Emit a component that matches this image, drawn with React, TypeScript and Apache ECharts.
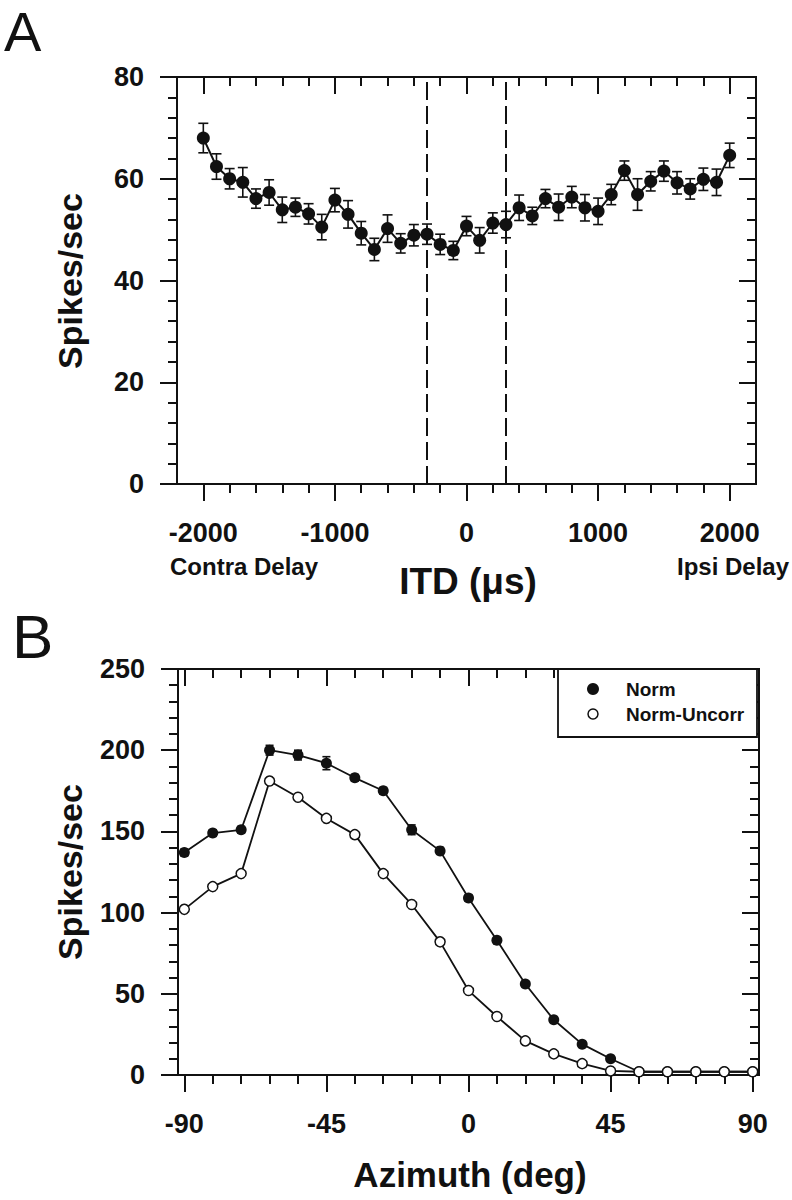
import React, { useEffect, useRef } from "react";
import * as echarts from "echarts";

// ---------- Panel A data: ITD tuning ----------
const itdUs = [
  -2000, -1900, -1800, -1700, -1600, -1500, -1400, -1300, -1200, -1100, -1000,
  -900, -800, -700, -600, -500, -400, -300, -200, -100, 0,
  100, 200, 300, 400, 500, 600, 700, 800, 900, 1000,
  1100, 1200, 1300, 1400, 1500, 1600, 1700, 1800, 1900, 2000,
];
const spikesA = [
  68.0, 62.4, 60.0, 59.3, 56.1, 57.3, 53.9, 54.4, 53.1, 50.5, 55.8,
  53.0, 49.3, 46.1, 50.2, 47.3, 48.9, 49.1, 47.1, 45.9, 50.7,
  47.9, 51.3, 51.0, 54.3, 52.7, 56.1, 54.4, 56.4, 54.3, 53.6,
  56.9, 61.6, 56.9, 59.5, 61.5, 59.2, 58.0, 59.9, 59.3, 64.6,
];
const semA = [
  2.9, 2.5, 2.0, 2.9, 1.9, 2.5, 2.5, 1.8, 2.0, 2.5, 2.3,
  2.7, 2.3, 2.2, 2.7, 1.9, 2.1, 2.0, 2.0, 1.8, 1.9,
  2.5, 2.0, 2.6, 2.5, 1.7, 1.8, 2.6, 2.1, 2.6, 2.6,
  2.0, 1.9, 3.1, 1.9, 2.0, 2.2, 2.0, 2.2, 2.6, 2.4,
];
const delayMarks = [-300, 300];
const itdLabels = [-2000, -1000, 0, 1000, 2000];
const itdTickSpan = [-2000, 2000];
const itdMajorStep = 1000;
const itdMinorStep = 200;

// ---------- Panel B data: azimuth tuning ----------
const azimuthDeg = [
  -90, -81, -72, -63, -54, -45, -36, -27, -18, -9, 0,
  9, 18, 27, 36, 45, 54, 63, 72, 81, 90,
];
const normRate = [
  137, 149, 151, 200, 197, 192, 183, 175, 151, 138, 109,
  83, 56, 34, 19, 10, 2, 2, 2, 2, 2,
];
const normSem = [
  2, 2, 2, 3, 3, 4, 2, 2, 3, 2, 2,
  1.5, 1.5, 1.5, 1.5, 1, 0, 0, 0, 0, 0,
];
const uncorrRate = [
  102, 116, 124, 181, 171, 158, 148, 124, 105, 82, 52,
  36, 21, 13, 7, 2.5, 2, 2, 2, 2, 2,
];
const azLabels = [-90, -45, 0, 45, 90];
const azTickSpan = [-90, 90];
const azMajorStep = 45;
const azMinorStep = 9;

const FONT = "'Liberation Sans', Arial, Helvetica, sans-serif";
const INK = "#111";

const gridA = { left: 177, top: 77, width: 579, height: 407 };
const gridB = { left: 178, top: 669, width: 581, height: 406 };
const xRangeA = [-2200, 2200];
const xRangeB = [-92, 92];

// a helper grid whose x extent is exactly the tick span of the main grid
function subGrid(g: any, range: number[], span: number[]) {
  const k = g.width / (range[1] - range[0]);
  return { left: g.left + (span[0] - range[0]) * k, top: g.top, width: (span[1] - span[0]) * k, height: g.height };
}

function tickAxis(gi: number, span: number[], step: number, len: number, position: string) {
  return {
    gridIndex: gi,
    type: "value",
    position,
    min: span[0],
    max: span[1],
    interval: step,
    axisLine: { show: false, onZero: false },
    axisTick: { show: true, inside: position === "top", length: len, lineStyle: { color: INK, width: 2 } },
    axisLabel: { show: false },
    splitLine: { show: false },
  };
}

function errorSeries(xi: number, yi: number, xs: number[], ys: number[], es: number[], half: number) {
  const data = xs.map((x, i) => [x, ys[i], es[i]]).filter((d) => d[2] > 0);
  return {
    type: "custom",
    xAxisIndex: xi,
    yAxisIndex: yi,
    silent: true,
    z: 2,
    data,
    renderItem: (_p: any, api: any) => {
      const x = api.value(0);
      const y = api.value(1);
      const e = api.value(2);
      const hi = api.coord([x, y + e]);
      const lo = api.coord([x, y - e]);
      const st = { stroke: INK, lineWidth: 1.6 };
      return {
        type: "group",
        children: [
          { type: "line", shape: { x1: hi[0], y1: hi[1], x2: lo[0], y2: lo[1] }, style: st },
          { type: "line", shape: { x1: hi[0] - half, y1: hi[1], x2: hi[0] + half, y2: hi[1] }, style: st },
          { type: "line", shape: { x1: lo[0] - half, y1: lo[1], x2: lo[0] + half, y2: lo[1] }, style: st },
        ],
      };
    },
  };
}

const tickLabelStyle = { fontSize: 27, fontWeight: "bold", fontFamily: FONT, color: INK };

function yAxes(grid: number, max: number, interval: number) {
  const common = {
    gridIndex: grid,
    type: "value",
    min: 0,
    max,
    interval,
    splitLine: { show: false },
    minorSplitLine: { show: false },
    axisLine: { show: true, onZero: false, lineStyle: { color: INK, width: 2 } },
    minorTick: { show: true, splitNumber: 5, length: 9, lineStyle: { color: INK, width: 2 } },
  };
  return [
    {
      ...common,
      position: "left",
      axisTick: { show: true, inside: false, length: 17, lineStyle: { color: INK, width: 2 } },
      axisLabel: { ...tickLabelStyle, margin: 33 },
    },
    {
      ...common,
      position: "right",
      axisTick: { show: true, inside: true, length: 17, lineStyle: { color: INK, width: 2 } },
      minorTick: { show: true, inside: true, splitNumber: 5, length: 9, lineStyle: { color: INK, width: 2 } },
      axisLabel: { show: false },
    },
  ];
}

const hiddenY = (gi: number) => ({ gridIndex: gi, type: "value", min: 0, max: 1, show: false });

function txt(text: string, x: number, y: number, size: number, align: string, bold = true, rotation = 0) {
  return {
    type: "text",
    x,
    y,
    rotation,
    z: 50,
    style: {
      text,
      fontSize: size,
      fontWeight: bold ? "bold" : "normal",
      fontFamily: FONT,
      fill: INK,
      align,
      verticalAlign: "middle",
    },
  };
}

export default function App() {
  const ref = useRef<HTMLDivElement>(null);

  useEffect(() => {
    document.body.style.margin = "0";
    const chart = echarts.init(ref.current!, null, { renderer: "svg" });
    const subA = subGrid(gridA, xRangeA, itdTickSpan);
    const subB = subGrid(gridB, xRangeB, azTickSpan);
    chart.setOption({
      animation: false,
      backgroundColor: "#fff",
      grid: [
        { ...gridA, show: true, borderColor: INK, borderWidth: 2 },
        { ...gridB, show: true, borderColor: INK, borderWidth: 2 },
        { ...subA }, // 2: A minor ticks
        { ...subA }, // 3: A major ticks
        { ...subB }, // 4: B minor ticks
        { ...subB }, // 5: B major ticks
      ],
      xAxis: [
        {
          gridIndex: 0,
          type: "value",
          min: xRangeA[0],
          max: xRangeA[1],
          interval: 200,
          splitLine: { show: false },
          axisLine: { show: true, onZero: false, lineStyle: { color: INK, width: 2 } },
          axisTick: { show: false },
          axisLabel: {
            ...tickLabelStyle,
            margin: 49,
            verticalAlign: "middle",
            formatter: (v: number) => (itdLabels.includes(v) ? String(v) : ""),
          },
        },
        {
          gridIndex: 1,
          type: "value",
          min: xRangeB[0],
          max: xRangeB[1],
          interval: 1,
          splitLine: { show: false },
          axisLine: { show: true, onZero: false, lineStyle: { color: INK, width: 2 } },
          axisTick: { show: false },
          axisLabel: {
            ...tickLabelStyle,
            margin: 49,
            verticalAlign: "middle",
            formatter: (v: number) => (azLabels.includes(v) ? String(v) : ""),
          },
        },
        tickAxis(2, itdTickSpan, itdMinorStep, 9, "bottom"),
        tickAxis(2, itdTickSpan, itdMinorStep, 9, "top"),
        tickAxis(3, itdTickSpan, itdMajorStep, 17, "bottom"),
        tickAxis(3, itdTickSpan, itdMajorStep, 17, "top"),
        tickAxis(4, azTickSpan, azMinorStep, 9, "bottom"),
        tickAxis(4, azTickSpan, azMinorStep, 9, "top"),
        tickAxis(5, azTickSpan, azMajorStep, 17, "bottom"),
        tickAxis(5, azTickSpan, azMajorStep, 17, "top"),
      ],
      yAxis: [...yAxes(0, 80, 20), ...yAxes(1, 250, 50), hiddenY(2), hiddenY(3), hiddenY(4), hiddenY(5)],
      series: [
        errorSeries(0, 0, itdUs, spikesA, semA, 5),
        {
          type: "line",
          name: "ITD",
          xAxisIndex: 0,
          yAxisIndex: 0,
          z: 3,
          data: itdUs.map((x, i) => [x, spikesA[i]]),
          symbol: "circle",
          symbolSize: 13,
          itemStyle: { color: INK },
          lineStyle: { color: INK, width: 2 },
          markLine: {
            silent: true,
            symbol: ["none", "none"],
            label: { show: false },
            lineStyle: { color: INK, width: 2, type: [18, 6] },
            data: delayMarks.map((v) => ({ xAxis: v })),
          },
        },
        errorSeries(1, 2, azimuthDeg, normRate, normSem, 4),
        {
          type: "line",
          name: "Norm",
          xAxisIndex: 1,
          yAxisIndex: 2,
          z: 3,
          data: azimuthDeg.map((x, i) => [x, normRate[i]]),
          symbol: "circle",
          symbolSize: 11,
          itemStyle: { color: INK },
          lineStyle: { color: INK, width: 1.8 },
        },
        {
          type: "line",
          name: "Norm-Uncorr",
          xAxisIndex: 1,
          yAxisIndex: 2,
          z: 4,
          data: azimuthDeg.map((x, i) => [x, uncorrRate[i]]),
          symbol: "circle",
          symbolSize: 10,
          itemStyle: { color: "#fff", borderColor: INK, borderWidth: 1.5 },
          lineStyle: { color: INK, width: 1.8 },
        },
      ],
      graphic: [
        txt("A", 4, 31, 56, "left", false),
        txt("B", 12, 636, 62, "left", false),
        txt("Spikes/sec", 70, 281, 34, "center", true, Math.PI / 2),
        txt("Spikes/sec", 70, 872, 34, "center", true, Math.PI / 2),
        txt("Contra Delay", 170, 566, 24, "left"),
        txt("Ipsi Delay", 677, 566, 24, "left"),
        txt("ITD (μs)", 468, 581, 37, "center"),
        txt("Azimuth (deg)", 470, 1174, 35, "center"),
        {
          type: "rect",
          z: 40,
          shape: { x: 558, y: 669, width: 199, height: 68 },
          style: { fill: "#fff", stroke: INK, lineWidth: 1.8 },
        },
        { type: "circle", z: 45, shape: { cx: 593, cy: 689, r: 6 }, style: { fill: INK } },
        { type: "circle", z: 45, shape: { cx: 593, cy: 714, r: 5 }, style: { fill: "#fff", stroke: INK, lineWidth: 1.5 } },
        txt("Norm", 626, 689, 19, "left"),
        txt("Norm-Uncorr", 626, 714, 19, "left"),
      ],
    });
    return () => chart.dispose();
  }, []);

  return <div ref={ref} style={{ width: 792, height: 1200 }} />;
}
